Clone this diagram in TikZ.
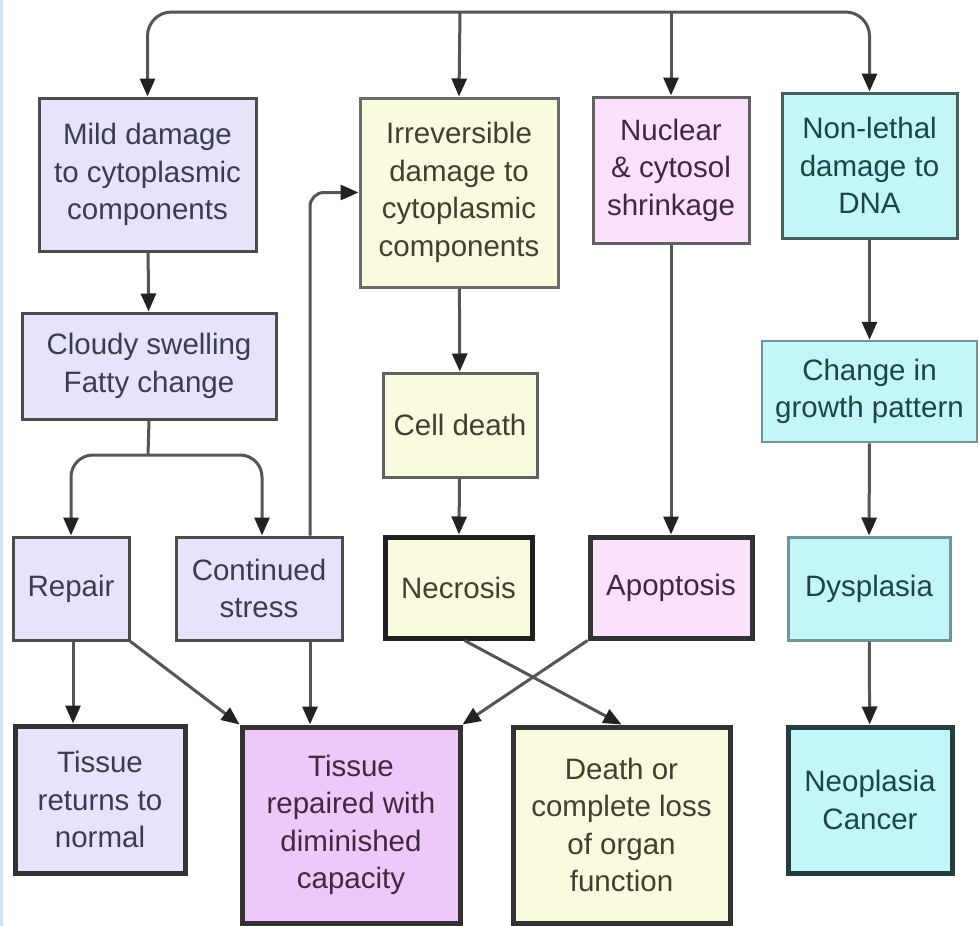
\documentclass[tikz,border=0pt]{standalone}
\usepackage{fontspec}
\setmainfont{Liberation Sans}
\usetikzlibrary{arrows.meta}
\definecolor{lav}{HTML}{E6E4FA}
\definecolor{yel}{HTML}{FAFADF}
\definecolor{pnk}{HTML}{FBE1FB}
\definecolor{mag}{HTML}{EEC8F8}
\definecolor{cya}{HTML}{C2F6F8}
\definecolor{linec}{HTML}{555555}
\definecolor{tipc}{HTML}{222222}
\definecolor{lavtxt}{HTML}{3C3C50}
\definecolor{yeltxt}{HTML}{404030}
\definecolor{pnktxt}{HTML}{402840}
\definecolor{cyatxt}{HTML}{1E4444}
\definecolor{strip}{HTML}{D4E2F0}
\tikzset{
  box/.style={draw=black!68, line width=3pt, inner sep=0pt, align=center,
    font=\fontsize{29.5}{37.5}\selectfont},
  thickbox/.style={box, draw=black!80, line width=5pt},
  lavbox/.style={fill=lav, text=lavtxt},
  yelbox/.style={fill=yel, text=yeltxt},
  pnkbox/.style={fill=pnk, text=pnktxt},
  magbox/.style={fill=mag, text=pnktxt},
  cyabox/.style={fill=cya, text=cyatxt},
  arr/.style={draw=linec, line width=3pt,
    -{Triangle[length=18pt,width=15pt,fill=tipc,color=tipc]}},
  plain/.style={draw=linec, line width=3pt}
}
\begin{document}
\begin{tikzpicture}[x=1pt,y=-1pt]
\useasboundingbox[fill=white] (0,0) rectangle (980,926);
\fill[strip] (0,0) rectangle (3,926);

% nodes
\node[box, lavbox, draw=black!70, minimum width=217, minimum height=153] (mild) at (147.5,174.5) {Mild damage\\to cytoplasmic\\components};
\node[box, lavbox, draw=black!70, minimum width=254, minimum height=106] (cloudy) at (149,366) {Cloudy swelling\\Fatty change};
\node[box, yelbox, draw=black!58, minimum width=198, minimum height=189] (irrev) at (459,192.5) {Irreversible\\damage to\\cytoplasmic\\components};
\node[box, pnkbox, draw=black!62, minimum width=156, minimum height=146] (nuclear) at (671,170) {Nuclear\\\& cytosol\\shrinkage};
\node[box, cyabox, draw={rgb,255:red,70;green,96;blue,96}, minimum width=175, minimum height=145] (nonlethal) at (869.5,165.5) {Non-lethal\\damage to\\DNA};
\node[box, cyabox, draw={rgb,255:red,110;green,150;blue,150}, line width=2.5pt, minimum width=215, minimum height=101] (change) at (869.5,391.5) {Change in\\growth pattern};
\node[box, yelbox, draw=black!62, minimum width=154, minimum height=104] (celldeath) at (460,425) {Cell death};
\node[box, lavbox, draw=black!70, minimum width=116, minimum height=103] (repair) at (71,588.5) {Repair};
\node[box, lavbox, draw=black!70, minimum width=166, minimum height=103] (cont) at (259,588.5) {Continued\\stress};
\node[thickbox, yelbox, draw=black!88, minimum width=147, minimum height=101] (necrosis) at (458.5,587.5) {Necrosis};
\node[thickbox, pnkbox, minimum width=162, minimum height=101] (apoptosis) at (671,587.5) {Apoptosis};
\node[box, cyabox, draw={rgb,255:red,110;green,150;blue,150}, minimum width=162, minimum height=103] (dysplasia) at (869,588.5) {Dysplasia};
\node[thickbox, lavbox, minimum width=170, minimum height=147] (tret) at (100,799.5) {Tissue\\returns to\\normal};
\node[thickbox, magbox, minimum width=218, minimum height=196] (trep) at (351,825) {Tissue\\repaired with\\diminished\\capacity};
\node[thickbox, yelbox, minimum width=217, minimum height=196] (death) at (621.5,825) {Death or\\complete loss\\of organ\\function};
\node[thickbox, cyabox, draw={rgb,255:red,36;green,60;blue,60}, minimum width=164, minimum height=146] (neo) at (870,800) {Neoplasia\\Cancer};

% top bus
\coordinate (bus) at (460,12);
\draw[arr, rounded corners=24] (bus) -| (mild.north);
\draw[arr, rounded corners=24] (bus) -| (nonlethal.north);
\draw[arr] (bus) -- (irrev.north);
\draw[arr] (bus -| nuclear.north) -- (nuclear.north);

% left column
\draw[arr] (mild) -- (cloudy);
\coordinate (split) at (148,455);
\draw[plain] (cloudy.south) -- (split);
\draw[arr, rounded corners=22] (split) -| (repair.north);
\draw[arr, rounded corners=22] (split) -| ([xshift=3]cont.north);
\draw[arr] ([xshift=2]repair.south) -- ([xshift=2]repair.south |- tret.north);
\draw[arr] (repair.south east) -- (trep.north west);
\draw[arr] ([xshift=51]cont.south) -- ([xshift=51]cont.south |- trep.north);
\draw[arr, rounded corners=14] ([xshift=51]cont.north) |- (irrev.west);

% middle
\draw[arr] (irrev) -- (celldeath);
\draw[arr] (celldeath) -- (necrosis);
\draw[arr] ([xshift=6]necrosis.south) -- (death.north);
\draw[arr] (apoptosis.south west) -- (trep.north east);
\draw[arr] (nuclear) -- (apoptosis);

% right
\draw[arr] (nonlethal) -- (change);
\draw[arr] (change) -- (dysplasia);
\draw[arr] (dysplasia) -- (neo);
\end{tikzpicture}
\end{document}
